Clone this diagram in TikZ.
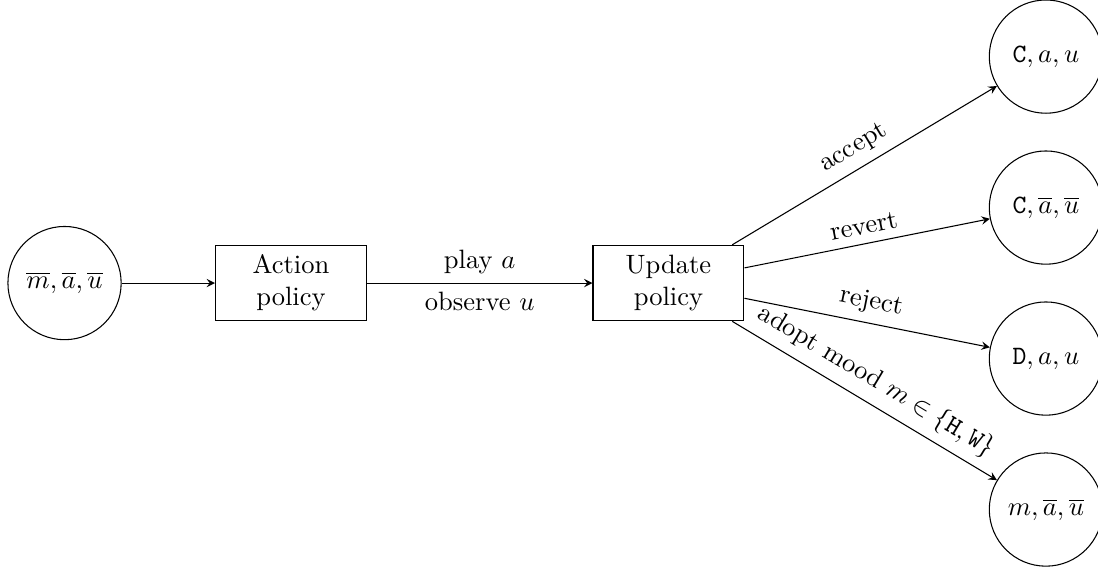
\documentclass[tikz,border=0pt]{standalone}
\begin{document}
\begin{tikzpicture}

        \useasboundingbox (-0.855,-3.76) rectangle (13.69,3.75);

        \begin{scope}[every node/.style={circle,draw,minimum size=1.5cm}]
          \node (s)   at (0,0)   {$\overline{m},\overline{a},\overline{u}$};
          \node (acc) at (13,3)  {$\texttt{C},a,u$};
          \node (rev) at (13,1)  {$\texttt{C},\overline{a},\overline{u}$};
          \node (rej) at (13,-1) {$\texttt{D},a,u$};
          \node (md)  at (13,-3) {$m,\overline{a},\overline{u}$};
        \end{scope}

        \begin{scope}[every node/.style={draw,align=center,minimum width=2cm,minimum height=1cm}]
          \node (act) at (3,0) {Action\\policy};
          \node (upd) at (8,0) {Update\\policy};
        \end{scope}

        \begin{scope}[every node/.style={sloped,above}]

          \begin{scope}[every edge/.style={draw,-stealth}]
            \path (s)   edge (act);
            \path (act) edge node {play $a$} node[below] {observe $u$} (upd);
            \path (upd) edge node {accept} (acc);
            \path (upd) edge node {revert} (rev);
            \path (upd) edge node {reject} (rej);
            \path (upd) edge node {adopt mood $m\in\{\texttt{H},\texttt{W}\}$} (md);
          \end{scope}
        \end{scope}

      \end{tikzpicture}
\end{document}
